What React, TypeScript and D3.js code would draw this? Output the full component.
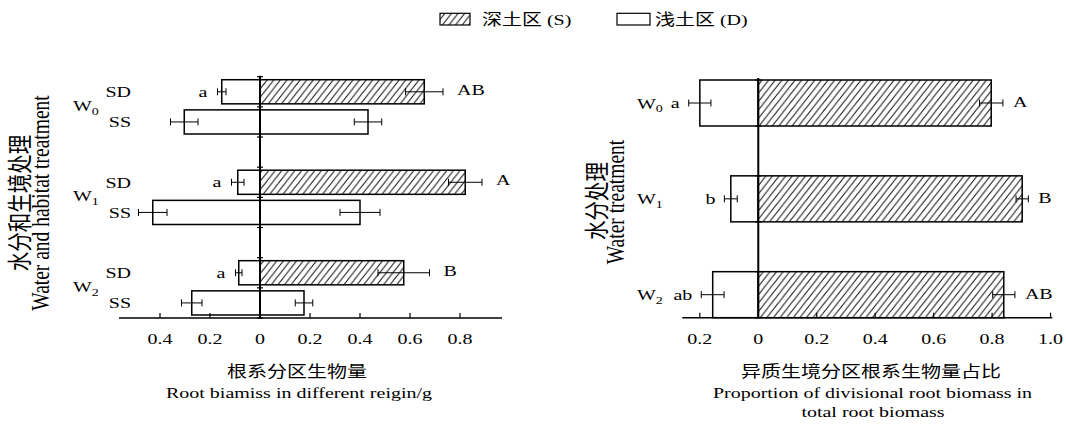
import React from 'react'
import * as d3 from 'd3'

// treatments and habitats
const groups = ['W0', 'W1', 'W2']
const habitats = ['SD', 'SS']

// left panel: root biomass per region (g), rows W0-SD, W0-SS, W1-SD, W1-SS, W2-SD, W2-SS
const leftSideValues = [0.153, 0.303, 0.089, 0.429, 0.085, 0.273]
const leftSideErrors = [0.017, 0.055, 0.025, 0.057, 0.013, 0.041]
const rightSideValues = [0.657, 0.432, 0.821, 0.4, 0.575, 0.176]
const rightSideErrors = [0.075, 0.055, 0.067, 0.08, 0.103, 0.035]
const leftSideLetters = ['a', '', 'a', '', 'a', '']
const rightSideLetters = ['AB', '', 'A', '', 'B', '']

// right panel: proportion of root biomass, per treatment
const shallowShare = [0.2, 0.094, 0.156]
const shallowShareErrors = [0.038, 0.022, 0.039]
const deepShare = [0.797, 0.903, 0.84]
const deepShareErrors = [0.04, 0.021, 0.038]
const shallowLetters = ['a', 'b', 'ab']
const deepLetters = ['A', 'B', 'AB']

const leftTicks = [-0.4, -0.2, 0, 0.2, 0.4, 0.6, 0.8]
const rightTicks = [-0.2, 0, 0.2, 0.4, 0.6, 0.8, 1.0]

const SY = 0.78 // the source picture is squashed vertically
const FONT = "'Liberation Serif', 'Noto Sans CJK SC', serif"

const fmt = (d: number) => (d === 0 ? '0' : Math.abs(d).toFixed(1))

const T = ({ x, y, size = 20, anchor = 'start', rotate = false, children }: any) => (
  <text
    transform={`translate(${x},${y}) scale(1,${SY})${rotate ? ' rotate(-90)' : ''}`}
    fontSize={size}
    textAnchor={anchor}
    fill='#000'
  >
    {children}
  </text>
)

const Sub = ({ label }: { label: string }) => (
  <>
    <tspan>{label[0]}</tspan>
    <tspan fontSize={14} dy={5}>{label.slice(1)}</tspan>
  </>
)

const ErrorBar = ({ x1, x2, y }: { x1: number; x2: number; y: number }) => (
  <g stroke='#000' strokeWidth={1}>
    <line x1={x1} x2={x2} y1={y} y2={y} />
    <line x1={x1} x2={x1} y1={y - 3.5} y2={y + 3.5} />
    <line x1={x2} x2={x2} y1={y - 3.5} y2={y + 3.5} />
  </g>
)

const App = () => {
  // ---- left panel
  const rows = groups.flatMap(g => habitats.map(h => `${g}|${h}`))
  const slots = [rows[0], rows[1], 'gap1', rows[2], rows[3], 'gap2', rows[4], rows[5]]
  const xL = d3.scaleLinear().domain([-0.564, 0.968]).range([119, 502])
  const yL = d3.scaleBand().domain(slots).range([76.7, 318]).paddingInner(0.2).paddingOuter(0.1)
  const axisYL = 318
  const slotEdges = slots.map(s => yL(s)! - yL.step() * 0.1).concat([axisYL])

  // ---- right panel
  const xR = d3.scaleLinear().domain([-0.26, 1.006]).range([682.3, 1052.3])
  const yR = d3.scaleBand().domain(groups).range([80, 317.7]).paddingInner(0.52).paddingOuter(0)
  const axisYR = 317.7

  return (
    <svg
      width={1066}
      height={426}
      style={{ position: 'absolute', left: 0, top: 0, background: '#fff' }}
      fontFamily={FONT}
    >
      <defs>
        <pattern id='hatch' patternUnits='userSpaceOnUse' width={6.6} height={8.4}>
          <path d='M0,8.4 L6.6,0 M-1,1.27 L1,-1.27 M5.6,9.67 L7.6,7.13' stroke='#000' strokeWidth={1} />
        </pattern>
      </defs>

      {/* legend */}
      <rect x={440} y={13.3} width={30} height={11.7} fill='url(#hatch)' stroke='#000' strokeWidth={1.2} />
      <T x={482} y={25}>深土区 (S)</T>
      <rect x={617} y={13.3} width={33} height={11.7} fill='#fff' stroke='#000' strokeWidth={1.2} />
      <T x={655} y={25}>浅土区 (D)</T>

      {/* ================= left panel ================= */}
      {rows.map((r, i) => {
        const y0 = yL(r)!
        const bw = yL.bandwidth()
        const cy = y0 + bw / 2
        const hatched = r.endsWith('SD')
        const lv = -leftSideValues[i]
        const rv = rightSideValues[i]
        const le = leftSideErrors[i]
        const re = rightSideErrors[i]
        return (
          <g key={r}>
            <rect x={xL(lv)} y={y0} width={xL(0) - xL(lv)} height={bw} fill='#fff' stroke='#000' strokeWidth={1.5} />
            <rect
              x={xL(0)}
              y={y0}
              width={xL(rv) - xL(0)}
              height={bw}
              fill={hatched ? 'url(#hatch)' : '#fff'}
              stroke='#000'
              strokeWidth={1.5}
            />
            <ErrorBar x1={xL(lv - le)} x2={xL(lv + le)} y={cy} />
            <ErrorBar x1={xL(rv - re)} x2={xL(rv + re)} y={cy} />
            {leftSideLetters[i] && (
              <T x={xL(lv - le) - 10} y={cy + 5} anchor='end'>{leftSideLetters[i]}</T>
            )}
            {rightSideLetters[i] && (
              <T x={xL(rv + re) + 14} y={cy + 3} anchor='start'>{rightSideLetters[i]}</T>
            )}
            <T x={131} y={cy + 5.5} anchor='end'>{r.split('|')[1]}</T>
          </g>
        )
      })}
      {groups.map(g => (
        <T key={g} x={73} y={yL(`${g}|SS`)! - yL.step() * 0.1 + 4}>
          <Sub label={g} />
        </T>
      ))}

      {/* zero line with band ticks */}
      <line x1={xL(0)} x2={xL(0)} y1={75.7} y2={axisYL} stroke='#000' strokeWidth={2} />
      {slotEdges.map((y, i) => (
        <line key={i} x1={xL(0) - 3} x2={xL(0) + 3} y1={y} y2={y} stroke='#000' strokeWidth={1.2} />
      ))}

      {/* x axis */}
      <line x1={xL.range()[0]} x2={xL.range()[1]} y1={axisYL} y2={axisYL} stroke='#000' strokeWidth={1.5} />
      {leftTicks.map(t => (
        <g key={t}>
          <line x1={xL(t)} x2={xL(t)} y1={axisYL} y2={axisYL - 5} stroke='#000' strokeWidth={1.2} />
          <T x={xL(t)} y={343.5} anchor='middle'>{fmt(t)}</T>
        </g>
      ))}
      <T x={297} y={377} anchor='middle'>根系分区生物量</T>
      <T x={299} y={397.5} anchor='middle'>Root biamiss in different reigin/g</T>

      <T x={28.5} y={203} size={25} anchor='middle' rotate>水分和生境处理</T>
      <T x={48.5} y={203} size={25} anchor='middle' rotate>Water and habitat treatment</T>

      {/* ================= right panel ================= */}
      {groups.map((g, i) => {
        const y0 = yR(g)!
        const bw = yR.bandwidth()
        const cy = y0 + bw / 2
        const sv = -shallowShare[i]
        const se = shallowShareErrors[i]
        const dv = deepShare[i]
        const de = deepShareErrors[i]
        return (
          <g key={g}>
            <rect x={xR(sv)} y={y0} width={xR(0) - xR(sv)} height={bw} fill='#fff' stroke='#000' strokeWidth={1.5} />
            <rect x={xR(0)} y={y0} width={xR(dv) - xR(0)} height={bw} fill='url(#hatch)' stroke='#000' strokeWidth={1.5} />
            <ErrorBar x1={xR(sv - se)} x2={xR(sv + se)} y={cy} />
            <ErrorBar x1={xR(dv - de)} x2={xR(dv + de)} y={cy} />
            <T x={xR(sv - se) - 9} y={cy + 5} anchor='end'>{shallowLetters[i]}</T>
            <T x={xR(dv + de) + 10} y={cy + 4} anchor='start'>{deepLetters[i]}</T>
            <T x={637} y={cy + 5.5}>
              <Sub label={g} />
            </T>
          </g>
        )
      })}

      <line x1={xR(0)} x2={xR(0)} y1={78} y2={axisYR} stroke='#000' strokeWidth={2} />
      {groups.flatMap(g => [yR(g)!, yR(g)! + yR.bandwidth()]).map((y, i) => (
        <line key={i} x1={xR(0) - 3} x2={xR(0) + 3} y1={y} y2={y} stroke='#000' strokeWidth={1.2} />
      ))}

      <line x1={xR.range()[0]} x2={xR.range()[1]} y1={axisYR} y2={axisYR} stroke='#000' strokeWidth={1.5} />
      {rightTicks.map(t => (
        <g key={t}>
          <line x1={xR(t)} x2={xR(t)} y1={axisYR} y2={axisYR - 5} stroke='#000' strokeWidth={1.2} />
          <T x={xR(t)} y={343.5} anchor='middle'>{fmt(t)}</T>
        </g>
      ))}
      <T x={871} y={377} anchor='middle'>异质生境分区根系生物量占比</T>
      <T x={872.5} y={397.5} anchor='middle'>Proportion of divisional root biomass in</T>
      <T x={873} y={416.5} anchor='middle'>total root biomass</T>

      <T x={606} y={201} size={25} anchor='middle' rotate>水分处理</T>
      <T x={624} y={202} size={25} anchor='middle' rotate>Water treatment</T>
    </svg>
  )
}

export default App
